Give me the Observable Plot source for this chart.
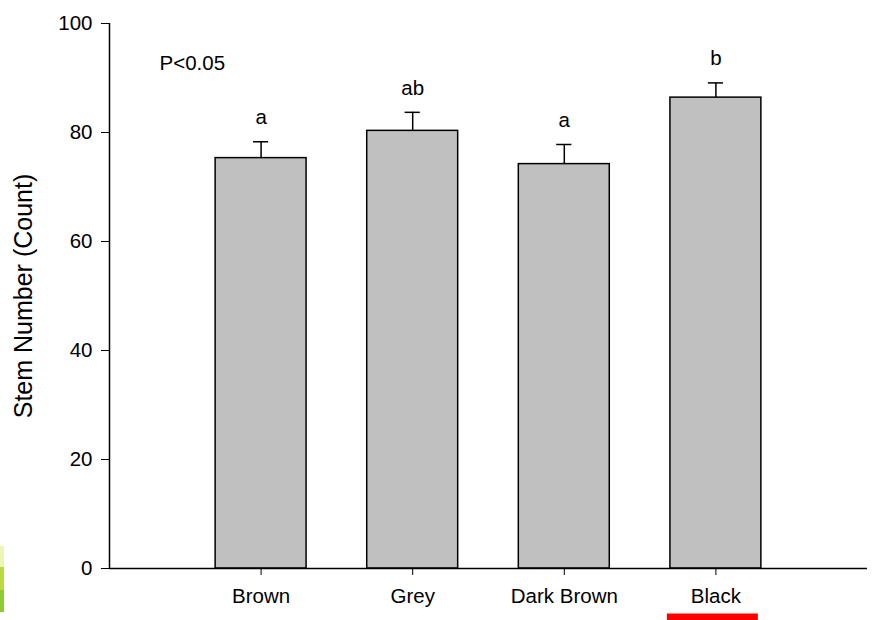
<!DOCTYPE html>
<html>
<head>
<meta charset="utf-8">
<script src="https://cdn.jsdelivr.net/npm/d3@7"></script>
<script src="https://cdn.jsdelivr.net/npm/@observablehq/plot@0.6"></script>
<style>
  html, body { margin: 0; padding: 0; background: #fff; }
  #wrap { position: relative; width: 875px; height: 620px; }
  .strip { position: absolute; left: 0; width: 4px; }
</style>
</head>
<body>
<div id="wrap">
  <div class="strip" style="top:546px;height:21px;background:#eef5b2;"></div>
  <div class="strip" style="top:567px;height:23px;background:#b8dc3e;"></div>
  <div class="strip" style="top:590px;height:22px;background:#8dcb2f;"></div>
</div>
<script>
// Data
const categories = ["Brown", "Grey", "Dark Brown", "Black"];
const means = [75.3, 80.3, 74.2, 86.4];
const errors = [3.0, 3.4, 3.6, 2.7];
const letters = ["a", "ab", "a", "b"];
const yTicks = [0, 20, 40, 60, 80, 100];
const significance = ["P<0.05"];
const highlighted = ["Black"];

const data = categories.map((c, i) => ({
  cat: c, pos: i + 1, mean: means[i], se: errors[i], top: means[i] + errors[i], letter: letters[i]
}));
const hl = data.filter(d => highlighted.includes(d.cat));

const font = "'Liberation Sans', Arial, Helvetica, sans-serif";

const chart = Plot.plot({
  width: 875,
  height: 620,
  marginTop: 23,
  marginBottom: 52,
  marginLeft: 109,
  marginRight: 8,
  style: { fontFamily: font, fontSize: "20.5px", color: "#000", background: "#fff" },
  x: { domain: [0, 5], axis: null },
  y: { domain: [0, 100], axis: null },
  marks: [
    // bars
    Plot.rectY(data, {
      x1: d => d.pos - 0.3, x2: d => d.pos + 0.3, y1: 0, y2: "mean",
      fill: "#c0c0c0", stroke: "#000", strokeWidth: 1.5
    }),
    // error bars (upper only)
    Plot.ruleX(data, { x: "pos", y1: "mean", y2: "top", stroke: "#000", strokeWidth: 1.5 }),
    Plot.ruleY(data, { y: "top", x1: d => d.pos - 0.05, x2: d => d.pos + 0.05, stroke: "#000", strokeWidth: 1.5 }),
    // letters
    Plot.text(data, { x: "pos", y: "top", text: "letter", dy: -24, fontSize: 20.5, fill: "#000" }),
    // axes
    Plot.axisY({
      ticks: yTicks, tickSize: 8, tickPadding: 9, label: null,
      fontSize: 20.5, tickFormat: d => d
    }),
    Plot.axisX({
      ticks: data.map(d => d.pos), tickSize: 7, tickPadding: 13, label: null,
      fontSize: 20.5, tickFormat: (d, i) => categories[i]
    }),
    Plot.ruleX([0], { stroke: "#000", strokeWidth: 1.5 }),
    Plot.ruleY([0], { stroke: "#000", strokeWidth: 1.5 }),
    // y label
    Plot.text(["Stem Number (Count)"], {
      frameAnchor: "left", textAnchor: "middle", lineAnchor: "middle",
      rotate: -90, dx: -86, fontSize: 25, fill: "#000"
    }),
    // significance
    Plot.text(significance, {
      frameAnchor: "top-left", textAnchor: "start", dx: 50, dy: 32, fontSize: 20.5, fill: "#000"
    }),
    // red highlight under highlighted category label
    Plot.ruleY(hl, {
      y: 0, x1: d => d.pos - 0.32, x2: d => d.pos + 0.28, dy: 48.5, stroke: "#ff0000", strokeWidth: 7
    })
  ]
});
document.getElementById("wrap").appendChild(chart);
</script>
</body>
</html>
